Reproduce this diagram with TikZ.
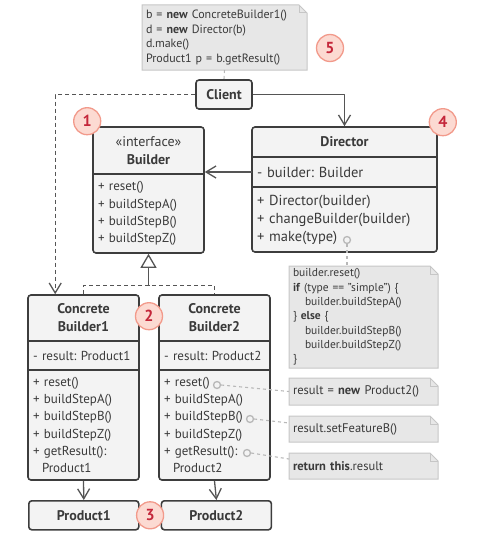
\documentclass[tikz,border=0pt]{standalone}
\usepackage{fontspec}
\setmainfont{PT Sans}
\usepackage{xcolor}
\usetikzlibrary{arrows.meta, positioning, fit, calc, backgrounds}

\definecolor{umlline}{HTML}{3D3D3D}
\definecolor{umltext}{HTML}{3A3A3A}
\definecolor{boxfill}{HTML}{F3F3F3}
\definecolor{notefill}{HTML}{E7E7E7}
\definecolor{noteline}{HTML}{C6C6C6}
\definecolor{wireline}{HTML}{555555}
\definecolor{linkline}{HTML}{B8B8B8}
\definecolor{badgefill}{HTML}{FCDAD2}
\definecolor{badgeline}{HTML}{F29A8B}
\definecolor{badgetext}{HTML}{C4263A}

\newcommand{\memberfont}{\fontsize{13}{17.3}\selectfont\frenchspacing}
\newcommand{\bigmemberfont}{\fontsize{14.5}{18}\selectfont\frenchspacing}
\newcommand{\titlefont}{\fontsize{14}{18}\selectfont\bfseries}
\newcommand{\notefont}{\fontsize{11.5}{14.3}\selectfont\frenchspacing}
% separator under a class part
\newcommand{\umlsep}[1]{\draw[umlline, line width=1.6pt] (#1.south west) -- (#1.south east);}
% folded-corner note behind a text node
\newcommand{\foldnote}[1]{%
  \fill[notefill, draw=noteline, line width=1pt] (#1.south west) -- (#1.north west) -- ($(#1.north east)+(-8,0)$) -- ($(#1.north east)+(0,8)$) -- (#1.south east) -- cycle;
  \draw[noteline, line width=1pt] ($(#1.north east)+(-8,0)$) |- ($(#1.north east)+(0,8)$);}

\begin{document}
\begin{tikzpicture}[x=1pt, y=-1pt, line join=round]
    % Styles
    \tikzstyle{part} = [anchor=north west, inner xsep=5pt, inner ysep=0pt, outer sep=0pt, align=left, text=umltext, font=\memberfont]
    \tikzstyle{head} = [part, align=center, font=\titlefont]
    \tikzstyle{frame} = [draw=umlline, fill=boxfill, line width=1.6pt, rounded corners=3pt, inner sep=0pt]
    \tikzstyle{classbox} = [frame, text=umltext, font=\titlefont, minimum height=29pt]
    \tikzstyle{notetext} = [anchor=north west, inner xsep=4pt, inner ysep=0pt, outer sep=0pt, align=left, text=umltext, font=\notefont]
    \tikzstyle{badge} = [circle, fill=badgefill, draw=badgeline, line width=1.3pt, minimum size=27pt, inner sep=0pt, text=badgetext, font=\fontsize{16}{16}\selectfont\bfseries]
    \tikzstyle{marker} = [circle, draw=linkline, line width=1.3pt, minimum size=7pt, inner sep=0pt]
    \tikzstyle{assoc} = [draw=wireline, line width=1.3pt, -{Straight Barb[length=10pt, width=12pt, line width=1.3pt]}]
    \tikzstyle{dep} = [assoc, dash pattern=on 4pt off 3pt]
    \tikzstyle{real} = [draw=wireline, line width=1.3pt, dash pattern=on 4pt off 3pt]
    \tikzstyle{link} = [draw=linkline, line width=1.1pt, dash pattern=on 3pt off 3pt]

    \useasboundingbox (0,0) rectangle (479,551);

    % Builder interface
    \node [head, text width=101pt, minimum height=47pt] (bh) at (93,127) {{\mdseries«interface»}\\Builder};
    \node [part, text width=101pt, minimum height=79pt, below=0pt of bh] (bm) {+ reset()\\+ buildStepA()\\+ buildStepB()\\+ buildStepZ()};

    % Director
    \node [head, text width=175pt, minimum height=30pt] (dh) at (252,127) {Director};
    \node [part, font=\bigmemberfont, text width=175pt, minimum height=30pt, below=0pt of dh] (da) {- builder: Builder};
    \node [part, font=\bigmemberfont, text width=175pt, minimum height=65pt, below=0pt of da] (dm) {+ Director(builder)\\+ changeBuilder(builder)\\+ make(type)};

    % Concrete builders
    \node [head, text width=101pt, minimum height=46pt] (c1h) at (28,295) {Concrete\\Builder1};
    \node [part, text width=101pt, minimum height=29pt, below=0pt of c1h] (c1a) {- result: Product1};
    \node [part, text width=101pt, minimum height=110pt, below=0pt of c1a] (c1m) {+ reset()\\+ buildStepA()\\+ buildStepB()\\+ buildStepZ()\\+ getResult():\\\hspace*{9pt}Product1};
    \node [head, text width=101pt, minimum height=46pt, right=20pt of c1h] (c2h) {Concrete\\Builder2};
    \node [part, text width=101pt, minimum height=29pt, below=0pt of c2h] (c2a) {- result: Product2};
    \node [part, text width=101pt, minimum height=110pt, below=0pt of c2a] (c2m) {+ reset()\\+ buildStepA()\\+ buildStepB()\\+ buildStepZ()\\+ getResult():\\\hspace*{9pt}Product2};

    \begin{scope}[on background layer]
        \node [frame, fit=(bh)(bm)] (builder) {};
        \node [frame, fit=(dh)(dm)] (director) {};
        \node [frame, fit=(c1h)(c1m)] (cb1) {};
        \node [frame, fit=(c2h)(c2m)] (cb2) {};
    \end{scope}
    \umlsep{bh}
    \umlsep{dh} \umlsep{da}
    \umlsep{c1h} \umlsep{c1a}
    \umlsep{c2h} \umlsep{c2a}

    % Client and products
    \node [classbox, minimum width=56pt] (client) at (224,94.5) {Client};
    \node [classbox, anchor=north west, minimum width=110pt] (p1) at (28,500) {Product1};
    \node [classbox, minimum width=110pt, right=21pt of p1] (p2) {Product2};

    % Notes
    \node [notetext, font=\fontsize{12}{14.5}\selectfont\frenchspacing, text width=157pt, minimum height=65pt] (snippet) at (142,5) {b = \textbf{new} ConcreteBuilder1()\\d = \textbf{new} Director(b)\\d.make()\\Product1 p = b.getResult()};
    \node [notetext, text width=141pt, minimum height=102pt] (recipe) at (289,266) {builder.reset()\\\textbf{if} (type == "simple") \{\\\hspace*{12pt}builder.buildStepA()\\\} \textbf{else} \{\\\hspace*{12pt}builder.buildStepB()\\\hspace*{12pt}builder.buildStepZ()\\\}};
    \tikzstyle{shortnote} = [notetext, font=\fontsize{12.5}{14.5}\selectfont\frenchspacing, text width=141pt]
    \node [shortnote, minimum height=27pt] (nreset) at (289,378) {result = \textbf{new} Product2()};
    \node [shortnote, minimum height=26pt] (nstepb) at (289,416) {result.setFeatureB()};
    \node [shortnote, minimum height=26pt] (nresult) at (289,453) {\textbf{return this}.result};
    \begin{scope}[on background layer]
        \foldnote{snippet}
        \foldnote{recipe}
        \foldnote{nreset}
        \foldnote{nstepb}
        \foldnote{nresult}
    \end{scope}

    % Markers
    \node [marker] (mkmake) at ($(dm.north west)+(95,53)$) {};
    \node [marker] (mkreset) at ($(c2m.north west)+(58,15)$) {};
    \node [marker] (mkstepb) at ($(c2m.north west)+(91,49)$) {};
    \node [marker] (mkresult) at ($(c2m.north west)+(88,83)$) {};

    % Edges
    \coordinate (cb1in) at ($(cb1.north west)+(28,0)$);
    \coordinate (split) at ($(builder.south)+(0,32)$);
    \draw [dep] (client.west) -| (cb1in);
    \draw [assoc] (client.east) -| (director.north);
    \draw [assoc] (da.west) -- (da.west -| builder.east);
    \draw [real] (cb1.north) |- (split) -| (cb2.north);
    \draw [real, dash pattern=, -{Triangle[open, length=14pt, width=16pt, line width=1.3pt]}] (split) -- (builder.south);
    \draw [assoc] (cb1.south) -- (p1.north);
    \draw [assoc] (cb2.south) -- (p2.north);

    % Note links
    \draw [link] (snippet.south) -- (client.north);
    \draw [link] (mkmake.south) -- (mkmake |- recipe.north);
    \draw [link] (mkreset.east) -- (nreset.west);
    \draw [link] (mkstepb.east) -- ($(nstepb.north west)+(0,7)$);
    \draw [link] (mkresult.east) -- ($(nresult.north west)+(0,6)$);

    % Step badges
    \node [badge] at ($(builder.north west)+(-5,-5)$) {1};
    \node [badge] at ($(cb1.north east)!0.5!(cb2.north west)+(0,22)$) {2};
    \node [badge] at ($(p1.east)!0.5!(p2.west)$) {3};
    \node [badge] at ($(director.north east)+(5,-4)$) {4};
    \node [badge] at (330,48) {5};
\end{tikzpicture}
\end{document}
